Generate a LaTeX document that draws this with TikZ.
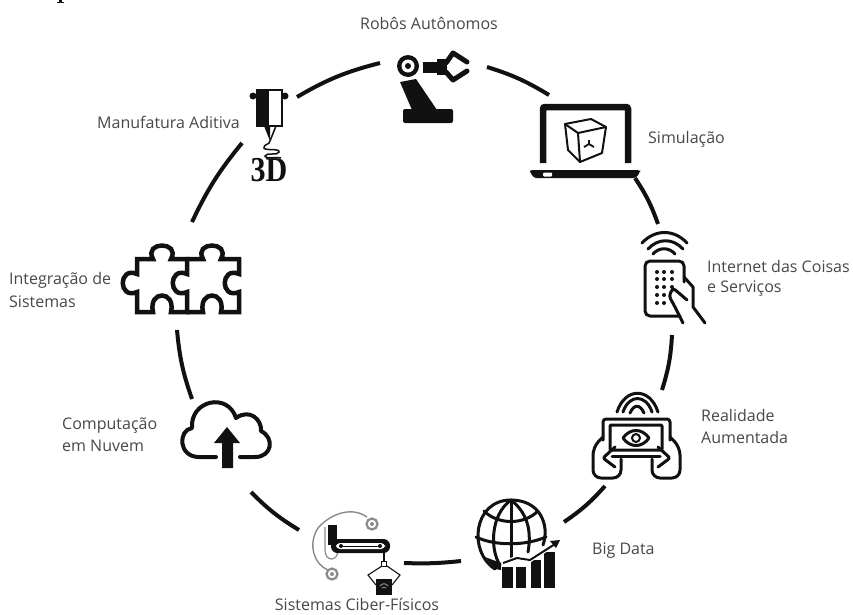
\documentclass[tikz,border=0pt]{standalone}
\usepackage{fontspec}
\setmainfont{Open Sans}
\newfontfamily\threedfont{Liberation Serif}
\definecolor{lbl}{HTML}{484848}
\definecolor{ink}{HTML}{111111}
\definecolor{soft}{HTML}{8A8A8A}
\tikzset{
  lab/.style={text=lbl,font=\fontsize{16pt}{22pt}\selectfont,inner sep=0pt},
  labl/.style={lab,anchor=west,align=left},
  ringarc/.style={draw=ink,line width=4pt},
  ic/.style={draw=ink,line width=3pt,line join=round,line cap=round},
  icthin/.style={draw=ink,line width=2pt,line join=round,line cap=round},
  icfill/.style={fill=ink,draw=none},
  softline/.style={draw=soft,line width=1.2pt}
}
\begin{document}
\begin{tikzpicture}[x=1pt,y=-1pt]
\useasboundingbox (0,0) rectangle (853,614);
\fill[white] (0,0) rectangle (853,614);
\fill[ink] (58.5,0) rectangle (62,3);
\fill[ink] (57,2.4) rectangle (63.5,3.2);

% Labels
\node[lab] (rob) at (429,23) {Robôs Autônomos};
\node[labl] (sim) at (648,139) {Simulação};
\node[labl] (man) at (97,122) {Manufatura Aditiva};
\node[labl] (iot) at (707,278) {Internet das Coisas\\[-2pt]e Serviços};
\node[labl] (int) at (9,290) {Integração de\\[1pt]Sistemas};
\node[labl] (ar) at (701,426) {Realidade\\Aumentada};
\node[labl] (com) at (62,435) {Computação\\em Nuvem};
\node[labl] (big) at (592,551) {Big Data};
\node[lab,anchor=base] (cps) at (357,610.5) {Sistemas Ciber-Físicos};

% Ring end points
\coordinate (a1) at (487,67);  \coordinate (a2) at (549,95);
\coordinate (b1) at (635,178); \coordinate (b2) at (658,224);
\coordinate (c1) at (672,335); \coordinate (c2) at (662,390);
\coordinate (d1) at (605,486); \coordinate (d2) at (564,522);
\coordinate (e1) at (461,561); \coordinate (e2) at (404,563);
\coordinate (f1) at (299,530); \coordinate (f2) at (251,492);
\coordinate (g1) at (192,399); \coordinate (g2) at (177,330);
\coordinate (h1) at (192,222); \coordinate (h2) at (242,143);
\coordinate (i1) at (297,97);  \coordinate (i2) at (380,63);
\draw[ringarc] (a1) to[bend left=7] (a2);
\draw[ringarc] (b1) to[bend left=7] (b2);
\draw[ringarc] (c1) to[bend left=7] (c2);
\draw[ringarc] (d1) to[bend left=7] (d2);
\draw[ringarc] (e1) to[bend left=4] (e2);
\draw[ringarc] (f1) to[bend left=7] (f2);
\draw[ringarc] (g1) to[bend left=7] (g2);
\draw[ringarc] (h1) to[bend left=7] (h2);
\draw[ringarc] (i1) to[bend left=8] (i2);

% Robot arm
\fill[ink,rounded corners=2pt] (403,109) rectangle (453,123);
\fill[ink] (400,82) -- (416,79) -- (437,110) -- (412,110) -- cycle;
\fill[ink] (408,66) circle (11);
\fill[white] (408,66) circle (6.5);
\fill[ink] (408,66) circle (3);
\fill[ink] (423,62) rectangle (440,73);
\fill[ink] (437,59) rectangle (447,75);
\draw[ic,line width=5pt] (446,63) -- (453,53) -- (467,62);
\draw[ic,line width=5pt] (446,72) -- (453,80) -- (467,71);

% 3D printer
\fill[ink] (253,96) circle (3.5);
\fill[ink] (285,96) circle (3.5);
\fill[white,draw=ink,line width=2.2pt] (257.5,90) rectangle (282,126);
\fill[ink] (257,90) rectangle (269,126);
\fill[ink] (264,126) -- (270,126) -- (270,141) -- cycle;
\draw[ink,line width=1.5pt] (270,126) -- (276,126) -- (270,141);
\draw[ink,line width=1.5pt] (270,141) .. controls (270,145) and (263,144) .. (264,148) .. controls (265,151) and (280,148) .. (279,152) .. controls (278,156) and (266,152) .. (265,156) .. controls (265,159) and (278,157) .. (281,158);
\node[font=\threedfont\bfseries\fontsize{35pt}{35pt}\selectfont,text=ink,inner sep=0pt] (threed) at (269,170) {\scalebox{0.86}[1]{3D}};

% Laptop
\draw[ink,line width=6.5pt,rounded corners=2pt] (543,163) -- (543,107) -- (628,107) -- (628,163);
\fill[ink,rounded corners=2.5pt] (530,170) -- (640,170) -- (640,172) -- (636,178) -- (534,178) -- (530,172) -- cycle;
\fill[white,rounded corners=1pt] (543,172.5) rectangle (552,176.5);
\draw[icthin] (565,124) -- (591,119) -- (606,127) -- (602,153) -- (580,162) -- (568,150) -- cycle;
\draw[icthin] (565,124) -- (578,133) -- (606,127);
\draw[icthin] (578,133) -- (580,162);
\draw[ink,line width=1.8pt] (589,140) -- (589,144) -- (584,147) (589,144) -- (594,147);

% Internet of things
\draw[ic] (642,243) .. controls (655,229) and (674,229) .. (687,243);
\draw[ic] (648,249) .. controls (658,238) and (673,238) .. (683,249);
\draw[ic] (653,254) .. controls (659,247) and (669,247) .. (675,254);
\draw[ic,rounded corners=5pt] (684,282) -- (684,261) -- (645,261) -- (645,316) -- (680,316);
\foreach \yy in {272,279,287,295,303} {\fill[ink] (657,\yy) circle (2); \fill[ink] (664,\yy) circle (2);}
\foreach \yy in {272,279,287} {\fill[ink] (672,\yy) circle (2);}
\draw[ic] (684,277) -- (693,287) -- (693,307) -- (705,323);
\draw[ic,rounded corners=3pt] (683,323) -- (675,307) -- (669,296) -- (673,288) -- (687,300);

% Augmented reality
\draw[ic] (617,412) .. controls (625,387) and (650,387) .. (658,412);
\draw[ic] (623,412) .. controls (629,394) and (646,394) .. (652,412);
\draw[ic] (630,413) .. controls (634,404) and (640,404) .. (644,413);
\draw[ic,rounded corners=3pt] (603,440) -- (603,419) -- (670,419) -- (670,440);
\draw[ic,rounded corners=1pt] (610,425) -- (610,450) -- (662,450) -- (662,425) -- cycle;
\draw[ic] (612,456) -- (660,456);
\draw[ic] (623,438) .. controls (630,428) and (642,428) .. (649,438) .. controls (642,448) and (630,448) .. (623,438) -- cycle;
\draw[icthin] (636,438) circle (4);
\draw[ic,rounded corners=8pt] (603,437) -- (593,447) -- (593,478) -- (621,478) -- (621,459);
\draw[ic,rounded corners=2pt] (615,447) -- (603,458) -- (615,467);
\draw[ic,rounded corners=8pt] (670,437) -- (680,447) -- (680,478) -- (652,478) -- (652,459);
\draw[ic,rounded corners=2pt] (658,447) -- (670,458) -- (658,467);

% Big data
\draw[ic] (495,569) .. controls (468,552) and (473,500) .. (511,500) .. controls (540,500) and (550,525) .. (543,545);
\draw[ic] (511,500) .. controls (490,515) and (490,550) .. (500,565);
\draw[ic] (511,500) .. controls (530,515) and (531,535) .. (528,552);
\draw[ic] (511,500) -- (511,560);
\draw[ic] (484,511) .. controls (498,525) and (524,525) .. (538,511);
\draw[ic] (476,537) .. controls (495,546) and (525,546) .. (546,537);
\fill[ink] (495,569) -- (485,557) -- (501,563) -- (501,570) -- cycle;
\fill[ink] (502,567) rectangle (513,588);
\fill[ink] (516,567) rectangle (526,588);
\fill[ink] (531,560) rectangle (541,588);
\fill[ink] (544,552) rectangle (555,588);
\draw[white,line width=4.5pt] (503,563) -- (517,558) -- (530,560) -- (553,545);
\draw[ink,line width=2pt] (503,563) -- (517,558) -- (530,560) -- (555,544);
\fill[ink] (560,540) -- (550,541) -- (556,548) -- cycle;

% Cyber-physical systems
\draw[soft,line width=1.4pt] (367,517) .. controls (350,505) and (328,516) .. (318,528) .. controls (307,545) and (315,565) .. (328,570);
\draw[soft,line width=2.2pt] (372,524) circle (5.5);
\draw[soft,line width=2.2pt] (332,574) circle (5.5);
\fill[soft] (372,524) circle (2);
\fill[soft] (332,574) circle (2);
\draw[softline] (325,527) -- (325,550) .. controls (325,562) and (338,562) .. (338,550) -- (338,545);
\fill[ink] (328,525) rectangle (337,545);
\fill[ink,rounded corners=6.5pt] (331,539) rectangle (390,553);
\fill[white,rounded corners=4pt] (336,543) rectangle (385,549);
\fill[ink] (341,546) circle (2);
\fill[ink] (380,546) circle (2);
\draw[ink,line width=0.5pt] (343,546) -- (378,546);
\draw[ink,line width=1.4pt] (384,553) -- (384,561);
\draw[ink,line width=1.1pt] (381.5,561.5) rectangle (386.5,566.5);
\draw[ink,line width=1.1pt] (382,566) -- (368,575) -- (376,585);
\draw[ink,line width=1.1pt] (387,566) -- (400,575) -- (392,585);
\fill[ink] (376,579) rectangle (392,595);
\draw[soft,line width=1pt] (380,586) .. controls (382,583) and (386,583) .. (388,586);
\draw[soft,line width=1pt] (382,588) .. controls (383,587) and (385,587) .. (386,588);

% Cloud
\draw[ic,line width=4pt] (216,457) -- (199,457) .. controls (178,457) and (178,430) .. (192,428) .. controls (190,400) and (228,392) .. (236,418) .. controls (250,408) and (262,420) .. (261,431) .. controls (275,438) and (272,457) .. (255,457) -- (240,457);
\fill[ink] (227,427) -- (214,443) -- (222,443) -- (222,468) -- (233,468) -- (233,443) -- (240,443) -- cycle;

% Puzzle
\draw[ic,line width=4.5pt,line join=miter] (187,259) -- (171,259) .. controls (181,241) and (143,241) .. (153,259) -- (137,259) -- (137,274) .. controls (118,266) and (118,300) .. (137,292) -- (137,312) -- (153,312) .. controls (148,290) and (176,290) .. (171,312) -- (187,312) -- (187,292) .. controls (168,300) and (168,266) .. (187,274) -- cycle;
\draw[ic,line width=4.5pt,line join=miter] (187,259) -- (203,259) .. controls (193,241) and (231,241) .. (221,259) -- (239,259) -- (239,274) .. controls (220,266) and (220,300) .. (239,292) -- (239,312) -- (221,312) .. controls (226,290) and (198,290) .. (203,312) -- (187,312);

\end{tikzpicture}
\end{document}
